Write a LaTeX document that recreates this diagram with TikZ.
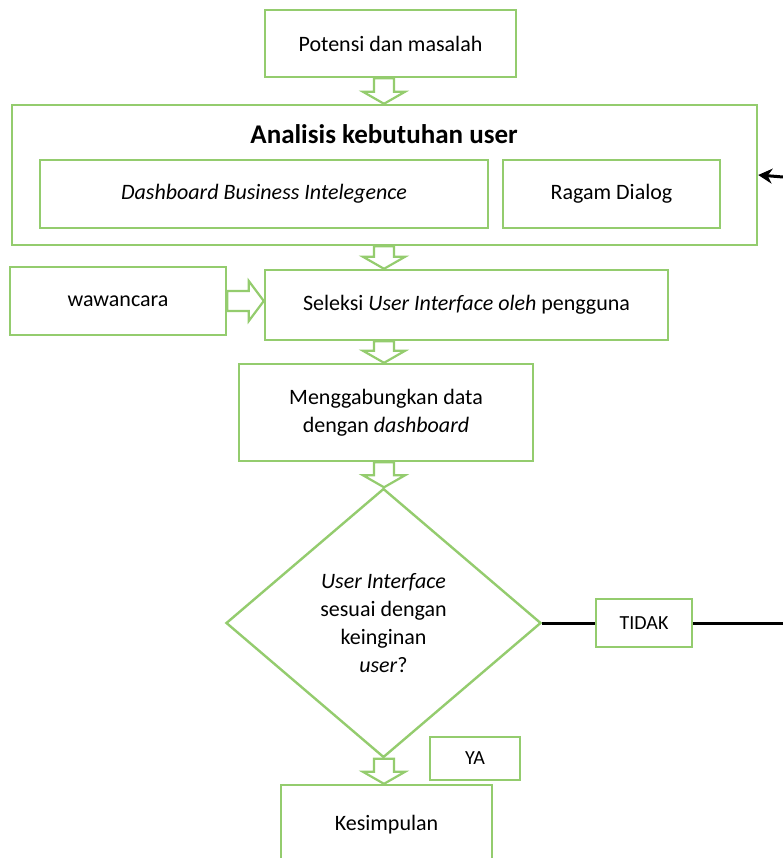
\documentclass[tikz,border=0pt]{standalone}
\usepackage{fontspec}
\setmainfont{Carlito}
\usetikzlibrary{calc,shapes.geometric,arrows.meta}
\definecolor{boxgreen}{RGB}{148,204,110}
\tikzset{
  box/.style={draw=boxgreen, line width=2.4pt, fill=white, inner sep=0pt, align=center,
    font=\fontsize{22}{28}\selectfont},
  hollow/.style={draw=boxgreen, line width=2.2pt, fill=white, line join=miter},
  link/.style={draw=black, line width=3pt}
}
% hollow block arrows between named nodes
\newcommand\hollowdown[2]{\path[hollow] let \p1=(#1.south -| axis), \p2=(#2.north -| axis) in
  (\x1-10,\y1) -- (\x1+10,\y1) -- (\x1+10,\y2+12) -- (\x1+21,\y2+12) -- (\x1,\y2)
  -- (\x1-21,\y2+12) -- (\x1-10,\y2+12) -- cycle;}
\newcommand\hollowright[2]{\path[hollow] let \p1=(#1.east), \p2=(#2.west) in
  (\x1,\y1+10) -- (\x2-15,\y1+10) -- (\x2-15,\y1+20) -- (\x2,\y1)
  -- (\x2-15,\y1-20) -- (\x2-15,\y1-10) -- (\x1,\y1-10) -- cycle;}

\begin{document}
\begin{tikzpicture}[x=1pt, y=-1pt]
			%%%%% FRAME %%%%%
			\useasboundingbox (0,0) rectangle (783,858);
			\path[fill=white] (0,0) rectangle (783,858);
			\coordinate (axis) at (384,0);
			
			%%%%% BOXES %%%%%
			\node[box, minimum width=251, minimum height=67] (potensi) at (390.5,43.5) {Potensi dan masalah};
			
			\node[box, minimum width=745, minimum height=140] (analisis) at (384.5,175) {};
			\node[font=\fontsize{27}{32}\selectfont\bfseries] (judul) at (384,134) {Analisis kebutuhan user};
			\node[box, minimum width=448, minimum height=68] (dbi) at (264,194) {\itshape Dashboard Business Intelegence};
			\node[box, minimum width=217, minimum height=68] (ragam) at (611.5,194) {Ragam Dialog};
			
			\node[box, minimum width=216, minimum height=68] (wawancara) at (118,301) {wawancara};
			\node[box, minimum width=403, minimum height=70] (seleksi) at (466.5,305) {Seleksi \textit{User Interface oleh} pengguna};
			
			\node[box, minimum width=294, minimum height=97] (gabung) at (386,412.5) {Menggabungkan data\\dengan \textit{dashboard}};
			
			\node[box, shape=diamond, minimum width=315, minimum height=269] (sesuai) at (383.5,623)
				{\textit{User Interface}\\sesuai dengan\\keinginan\\\textit{user}?};
			
			\node[box, minimum width=96, minimum height=48, font=\fontsize{20}{24}\selectfont] (tidak) at (644,623) {TIDAK};
			\node[box, minimum width=90, minimum height=43, font=\fontsize{20}{24}\selectfont] (ya) at (475,758.5) {YA};
			
			\node[box, minimum width=211, minimum height=80] (kesimpulan) at (386.5,825) {Kesimpulan};
			
			%%%%% CONNECTORS %%%%%
			\coordinate (edgeT) at (783,177);
			\coordinate (edgeR) at (783,623);
			
			\hollowdown{potensi}{analisis}
			\hollowdown{analisis}{seleksi}
			\hollowright{wawancara}{seleksi}
			\hollowdown{seleksi}{gabung}
			\hollowdown{gabung}{sesuai}
			\hollowdown{sesuai}{kesimpulan}
			
			\draw[link] (sesuai.east) -- (tidak.west);
			\draw[link] (tidak.east) -- (edgeR);
			\draw[link, -{Stealth[length=14pt, width=15pt]}] (edgeT) -- (analisis.east);
			
			%%%%% END %%%%%
\end{tikzpicture}
\end{document}
